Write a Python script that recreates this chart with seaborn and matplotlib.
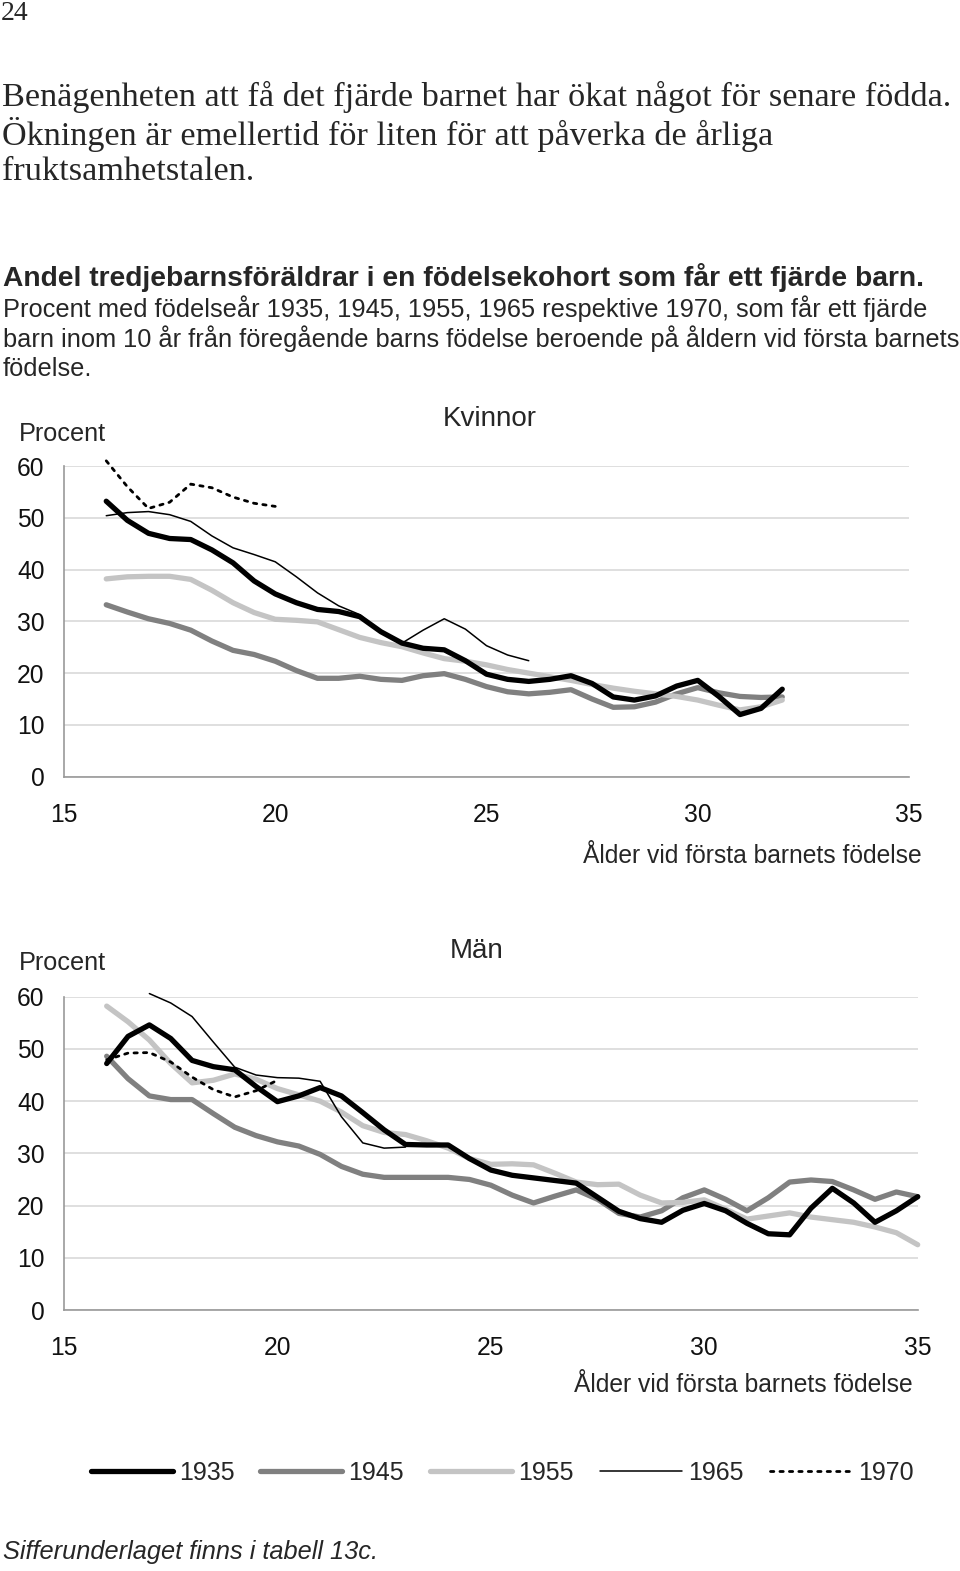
import numpy as np
import pandas as pd
import seaborn as sns
import matplotlib.pyplot as plt

## Andel tredjebarnsföräldrar som får ett fjärde barn (Kvinnor / Män)

ages_k = [16 + 0.5 * i for i in range(33)]          # 16 .. 32
k1935 = [53.2, 49.5, 47.0, 46.0, 45.8, 43.8, 41.3, 37.8, 35.3, 33.6, 32.3, 31.9, 30.9,
         28.0, 25.8, 24.8, 24.5, 22.4, 19.8, 18.8, 18.4, 18.8, 19.5, 18.0, 15.4, 14.8,
         15.6, 17.5, 18.6, 15.5, 12.0, 13.2, 16.9]
k1945 = [33.2, 31.8, 30.5, 29.6, 28.3, 26.2, 24.4, 23.6, 22.3, 20.5, 19.0, 19.0, 19.4,
         18.8, 18.6, 19.5, 19.9, 18.8, 17.4, 16.4, 16.0, 16.3, 16.8, 15.0, 13.4, 13.5,
         14.4, 16.0, 17.2, 16.2, 15.5, 15.3, 15.4]
k1955 = [38.2, 38.6, 38.7, 38.7, 38.1, 36.0, 33.6, 31.7, 30.4, 30.2, 29.9, 28.4, 26.9,
         25.9, 25.1, 23.9, 22.8, 22.3, 21.6, 20.7, 20.0, 19.3, 18.6, 17.8, 17.1, 16.5,
         16.0, 15.5, 14.8, 13.8, 12.9, 13.5, 14.8]
ages_k1965 = [16 + 0.5 * i for i in range(21)]      # 16 .. 26
k1965 = [50.4, 51.0, 51.2, 50.6, 49.3, 46.5, 44.2, 42.9, 41.5, 38.6, 35.5, 33.0, 31.3,
         28.0, 25.8, 28.3, 30.5, 28.5, 25.3, 23.5, 22.4]
ages_k1970 = [16 + 0.5 * i for i in range(9)]       # 16 .. 20
k1970 = [61.0, 56.0, 51.8, 53.0, 56.5, 55.8, 54.0, 52.8, 52.2]

ages_m = [16 + 0.5 * i for i in range(39)]          # 16 .. 35
m1935 = [47.2, 52.4, 54.6, 52.0, 47.8, 46.6, 46.0, 42.8, 39.9, 41.0, 42.6, 41.0, 37.8,
         34.5, 31.7, 31.6, 31.6, 29.0, 26.8, 25.8, 25.3, 24.8, 24.3, 21.6, 18.9, 17.5,
         16.8, 19.1, 20.4, 19.0, 16.6, 14.6, 14.4, 19.5, 23.3, 20.5, 16.8, 19.0, 21.7]
m1945 = [48.6, 44.3, 41.0, 40.3, 40.3, 37.6, 35.0, 33.4, 32.2, 31.4, 29.8, 27.5, 26.0,
         25.4, 25.4, 25.4, 25.4, 25.0, 23.9, 22.0, 20.5, 21.8, 23.0, 21.2, 18.5, 17.8,
         19.0, 21.5, 23.0, 21.2, 19.0, 21.5, 24.5, 24.9, 24.6, 23.0, 21.2, 22.6, 21.7]
m1955 = [58.2, 55.2, 51.7, 47.2, 43.5, 44.0, 45.2, 44.2, 42.4, 41.2, 40.0, 37.9, 35.3,
         34.0, 33.6, 32.4, 31.0, 29.0, 27.9, 28.0, 27.8, 26.2, 24.5, 24.0, 24.1, 22.0,
         20.5, 20.6, 21.1, 19.3, 17.4, 18.0, 18.6, 17.8, 17.3, 16.8, 15.9, 14.8, 12.5]
ages_m1965 = [17 + 0.5 * i for i in range(13)]      # 17 .. 23
m1965 = [60.6, 58.8, 56.2, 51.3, 46.5, 45.0, 44.5, 44.4, 43.8, 37.0, 32.0, 31.0, 31.2]
ages_m1970 = [16 + 0.5 * i for i in range(9)]       # 16 .. 20
m1970 = [47.9, 49.2, 49.3, 47.5, 44.6, 42.2, 40.8, 42.0, 44.0]

kohorter = ["1935", "1945", "1955", "1965", "1970"]
farger = {"1935": "#000000", "1945": "#808080", "1955": "#c4c4c4",
          "1965": "#000000", "1970": "#000000"}
bredd = {"1935": 3.8, "1945": 3.8, "1955": 3.8, "1965": 1.1, "1970": 2.0}
stil = {"1935": "-", "1945": "-", "1955": "-", "1965": "-", "1970": (0, (1.2, 2.2))}

kvinnor = {"1935": (ages_k, k1935), "1945": (ages_k, k1945), "1955": (ages_k, k1955),
           "1965": (ages_k1965, k1965), "1970": (ages_k1970, k1970)}
man = {"1935": (ages_m, m1935), "1945": (ages_m, m1945), "1955": (ages_m, m1955),
       "1965": (ages_m1965, m1965), "1970": (ages_m1970, m1970)}

sns.set_style("white")
plt.rcParams["font.family"] = ["Liberation Sans", "DejaVu Sans"]
fs = 18

W, H = 960, 1571
fig = plt.figure(figsize=(W / 100, H / 100), dpi=100)


def fx(x):
    return x / W


def fy(y):
    return 1 - y / H


def panel(left, right, top, bottom, data, title, title_x, title_y, proc_y, xlab_x, xlab_y):
    ax = fig.add_axes([fx(left), fy(bottom), fx(right - left), (bottom - top) / H])
    for k in kohorter:
        x, y = data[k]
        df = pd.DataFrame({"alder": x, "andel": y})
        sns.lineplot(data=df, x="alder", y="andel", ax=ax, color=farger[k],
                     lw=bredd[k], linestyle=stil[k], label=k, clip_on=False,
                     solid_capstyle="round", solid_joinstyle="round",
                     dash_capstyle="round", legend=False)
    # 1935 on top
    ax.lines[0].set_zorder(5)
    ax.set_xlim(15, 35)
    ax.set_ylim(0, 60)
    ax.set_xticks([15, 20, 25, 30, 35])
    ax.set_yticks([0, 10, 20, 30, 40, 50, 60])
    ax.yaxis.grid(True, color="#d9d9d9", lw=1.2)
    ax.xaxis.grid(False)
    for s in ["top", "right"]:
        ax.spines[s].set_visible(False)
    for s in ["left", "bottom"]:
        ax.spines[s].set_color("#999999")
        ax.spines[s].set_linewidth(1.2)
    ax.tick_params(axis="both", which="major", direction="out", length=5,
                   color="#999999", width=1.2, labelsize=fs - 0.3, labelcolor="#111111")
    ax.tick_params(axis="y", pad=9)
    ax.tick_params(axis="x", pad=14)
    ax.set_xlabel("")
    ax.set_ylabel("")
    fig.text(fx(19), fy(proc_y), "Procent", fontsize=fs + 0.2, va="center", ha="left")
    fig.text(fx(title_x), fy(title_y), title, fontsize=fs + 2, va="center", ha="center")
    fig.text(fx(xlab_x), fy(xlab_y), "Ålder vid första barnets födelse", fontsize=fs - 0.3,
             va="center", ha="right")
    return ax


ax1 = panel(64, 909, 466, 776.7, kvinnor, "Kvinnor", 490, 419, 434, 922, 856)
ax2 = panel(64, 917.7, 996.7, 1310, man, "Män", 477, 951, 963, 913, 1385)

# page text
fig.text(fx(1), fy(13), "24", family="Liberation Serif", fontsize=20, va="center")
brod = ["Benägenheten att få det fjärde barnet har ökat något för senare födda.",
        "Ökningen är emellertid för liten för att påverka de årliga",
        "fruktsamhetstalen."]
for i, rad in enumerate(brod):
    fig.text(fx(2), fy(97 + i * 37.5), rad, family="Liberation Serif", fontsize=24.7,
             va="center")

fig.text(fx(3), fy(277), "Andel tredjebarnsföräldrar i en födelsekohort som får ett fjärde barn.",
         fontsize=20.3, weight="bold", va="center")
under = ["Procent med födelseår 1935, 1945, 1955, 1965 respektive 1970, som får ett fjärde",
         "barn inom 10 år från föregående barns födelse beroende på åldern vid första barnets",
         "födelse."]
for i, rad in enumerate(under):
    fig.text(fx(3), fy(309 + i * 30), rad, fontsize=18.3, va="center")

handles = ax2.lines[:5]
fig.legend(handles, kohorter, loc="center left", bbox_to_anchor=(fx(78), fy(1473)),
           ncol=5, frameon=False, fontsize=fs, handlelength=3.28, handletextpad=0.25,
           columnspacing=1.04, borderpad=0)

fig.text(fx(3), fy(1552), "Sifferunderlaget finns i tabell 13c.", fontsize=18.3,
         style="italic", va="center")

fig.savefig("out.png", dpi=100, facecolor="white")
